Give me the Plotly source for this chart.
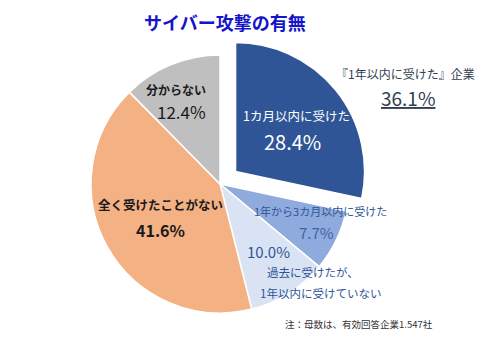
import plotly.graph_objects as go

# Share of companies by most recent cyber attack experience (n = 1,547)
categories = [
    "1カ月以内に受けた",
    "1年から3カ月以内に受けた",
    "過去に受けたが、1年以内に受けていない",
    "全く受けたことがない",
    "分からない",
]
shares = [28.4, 7.7, 10.0, 41.6, 12.4]
colors = ["#2F5597", "#8FAADC", "#DAE3F3", "#F4B183", "#BFBFBF"]
pulls = [0.155, 0, 0, 0, 0]
within_year_total = 36.1

FONT = "Noto Sans CJK JP"
W, H = 490, 344

fig = go.Figure(
    go.Pie(
        values=shares,
        labels=categories,
        marker=dict(colors=colors, line=dict(color="white", width=1.5)),
        pull=pulls,
        sort=False,
        direction="clockwise",
        rotation=0,
        textinfo="none",
        hoverinfo="label+percent",
        showlegend=False,
        domain=dict(x=[71 / W, 369 / W], y=[1 - 333 / H, 1 - 35 / H]),
    )
)


def px(x, y):
    return x / W, 1 - y / H


def label(text, x, y, size, color, bold=False, xanchor="center"):
    ax, ay = px(x, y)
    fig.add_annotation(
        x=ax, y=ay, xref="paper", yref="paper", showarrow=False,
        xanchor=xanchor, yanchor="middle",
        text=f"<b>{text}</b>" if bold else text,
        font=dict(family=FONT, size=size, color=color),
    )


def pct(v):
    return f"{v:.1f}%"


# Title
label("サイバー攻撃の有無", 225, 22, 18, "#1414C8", bold=True)

# Total for attacks within the last year
label("『1年以内に受けた』企業", 405, 74, 12, "#333F50")
label(f"<u>{pct(within_year_total)}</u>", 408, 97, 19, "#333F50")

# Slice labels
label(categories[0], 296, 116, 12.5, "white")
label(pct(shares[0]), 292, 141, 20, "white")

label(categories[1], 320, 211, 11, "#2F5597")
label(pct(shares[1]), 316, 232, 15, "#3F63A8")

label(pct(shares[2]), 268, 251, 15, "#2F5597")
label("過去に受けたが、", 265, 272, 11.5, "#2F5597", xanchor="left")
label("1年以内に受けていない", 258, 293, 11.5, "#2F5597", xanchor="left")

label(categories[3], 160, 205, 12.5, "#1A1A1A", bold=True)
label(pct(shares[3]), 160, 230, 16, "#1A1A1A", bold=True)

label(categories[4], 176, 89, 12, "#1A1A1A", bold=True)
label(pct(shares[4]), 181, 111, 17, "#1A1A1A")

# Footnote
label("注：母数は、有効回答企業1.547社", 283, 324, 9.5, "#333333", xanchor="left")

fig.update_layout(
    width=W, height=H,
    margin=dict(l=0, r=0, t=0, b=0),
    paper_bgcolor="white",
    plot_bgcolor="white",
    font=dict(family=FONT),
)

fig.write_html("out.html")
